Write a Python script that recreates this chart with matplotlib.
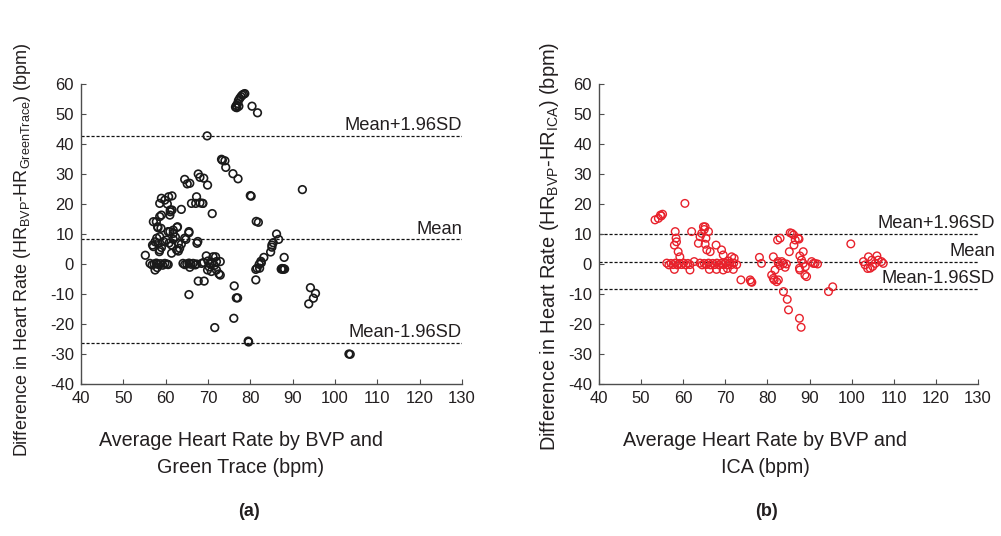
import matplotlib
matplotlib.use("Agg")
import matplotlib.pyplot as plt

plt.rcParams['font.family'] = ['Liberation Sans', 'DejaVu Sans']
plt.rcParams['mathtext.fontset'] = 'custom'
plt.rcParams['mathtext.rm'] = 'Liberation Sans'
plt.rcParams['mathtext.default'] = 'regular'
plt.rcParams['axes.unicode_minus'] = False

# --- data: Bland-Altman, BVP vs Green Trace (a) ---
x_a = [76.5, 76.7, 77.0, 77.2, 77.5, 77.8, 78.1, 78.4, 78.7, 76.8, 77.3,
       80.4, 81.7, 69.8,
       73.2, 74.0, 74.2, 75.9, 77.1, 73.4, 92.3, 80.0, 80.2, 81.4, 81.9, 71.0, 68.7,
       68.1, 69.0, 69.9, 64.5, 65.1, 65.7, 67.7,
       59.0, 59.8, 60.7, 61.5, 58.6, 60.4, 61.1, 63.7,
       66.1, 67.1, 68.1, 68.8, 67.3,
       57.1, 57.8, 58.6, 59.0, 61.0, 61.1, 61.5,
       58.2, 58.1, 58.9, 60.6, 61.8, 62.7, 62.8, 61.0, 61.8,
       65.5, 64.5, 67.4, 67.6, 64.8, 65.5, 63.7,
       58.2, 57.5, 57.1, 56.9, 57.9, 58.6, 58.5, 58.6, 61.4,
       63.0, 63.3, 61.4, 62.6, 63.0, 59.5, 60.2, 60.8, 59.0, 61.8, 62.3,
       55.2,
       56.3, 56.8, 57.3, 57.8, 58.3, 58.8, 59.3, 59.8, 60.3, 60.6,
       57.5, 58.0,
       64.1, 64.5, 65.0, 65.5, 66.0, 66.5, 67.0, 67.3,
       65.7, 65.5, 67.7, 69.1,
       68.5, 69.6, 71.2, 71.8, 72.9, 69.0, 70.0, 70.5, 71.0, 71.5, 72.0, 70.3,
       69.9, 72.0, 72.6, 72.9, 70.8,
       71.6, 76.2, 76.7, 77.0, 76.1, 79.5, 79.6,
       81.3, 81.3, 82.2, 82.6, 83.2, 82.5, 82.1, 81.6,
       84.8, 85.1, 85.4, 86.2, 86.7, 85.1,
       88.0, 87.3, 87.5, 87.7, 87.9, 88.1,
       94.2, 95.4, 94.9, 93.8, 103.3, 103.6]
y_a = [52.3, 52.8, 53.5, 54.5, 55.2, 55.8, 56.3, 56.6, 56.8, 52.1, 52.6,
       52.6, 50.4, 42.7,
       34.9, 34.4, 32.2, 30.1, 28.4, 34.6, 24.8, 22.8, 22.6, 14.2, 13.9, 16.8, 20.2,
       28.9, 28.6, 26.3, 28.2, 26.7, 26.9, 30.0,
       21.9, 21.3, 22.4, 22.7, 20.2, 20.0, 18.0, 18.2,
       20.2, 20.2, 20.4, 20.2, 22.4,
       14.1, 14.1, 15.8, 16.3, 16.3, 17.4, 18.0,
       12.1, 12.4, 11.9, 10.8, 11.3, 12.2, 12.4, 10.8, 10.2,
       10.8, 8.6, 6.9, 7.5, 8.2, 10.4, 6.6,
       6.9, 7.4, 5.8, 6.3, 8.6, 9.1, 4.1, 4.7, 3.6,
       6.9, 5.2, 6.3, 4.7, 4.3, 7.5, 8.0, 7.0, 5.5, 8.2, 9.0,
       2.9,
       0.2, -0.3, 0.0, 0.3, -0.2, 0.1, -0.4, 0.2, 0.0, -0.2,
       -2.0, -1.2,
       0.2, -0.2, 0.0, 0.3, -0.1, 0.2, -0.3, 0.0,
       -1.1, -10.2, -5.7, -5.7,
       0.2, 2.7, 2.4, 2.4, 0.8, 0.5, 1.0, 0.0, 0.5, -0.5, 0.8, -1.0,
       -2.0, -2.0, -3.3, -3.7, -2.5,
       -21.2, -7.3, -11.3, -11.3, -18.1, -25.7, -26.0,
       -5.3, -1.8, -1.4, 0.4, 2.2, 0.9, -0.1, -1.4,
       4.0, 6.3, 7.1, 10.0, 8.2, 5.6,
       2.2, -1.7, -1.5, -1.8, -1.6, -1.7,
       -7.9, -9.8, -11.4, -13.3, -30.0, -30.1]
mean_a, upper_a, lower_a = 8.2, 42.7, -26.3

# --- data: Bland-Altman, BVP vs ICA (b) ---
x_b = [60.4, 53.3, 54.1, 54.6, 55.1, 54.8,
       58.1, 58.3, 58.4, 57.9, 62.0, 58.8, 59.2, 57.9, 61.6,
       56.1, 56.6, 57.1, 57.6, 58.1, 58.6, 59.1, 59.6, 60.1, 60.6, 61.1, 61.6, 62.6,
       63.6, 64.0, 64.8, 65.2, 66.0, 64.4, 65.4, 65.0,
       65.2, 65.6, 66.4, 67.8, 69.1, 69.5,
       64.0, 64.5, 65.0, 65.5, 66.0, 66.5, 67.0, 67.5, 68.0, 68.5, 69.0, 69.5,
       70.0, 70.5, 71.0, 71.5, 72.0, 72.7,
       66.2, 67.9, 69.5, 71.9, 70.5, 71.5, 72.1, 70.8,
       73.7, 76.1, 76.3, 75.9, 78.1, 78.6,
       81.4, 82.4, 83.0,
       81.0, 81.6, 82.2, 82.6, 81.4,
       81.8, 82.6, 83.4, 84.2, 82.5, 83.0, 83.8, 84.5,
       83.8, 84.7, 85.0, 87.6, 88.0,
       85.2, 86.3, 86.6, 85.4, 85.8, 86.2, 87.3, 87.5,
       88.5, 87.7, 88.1, 88.5, 87.6, 87.7, 88.9, 89.3, 89.0,
       90.5, 91.3, 91.9, 90.9, 94.5, 95.5, 99.8,
       102.8, 103.2, 104.0, 104.4, 104.8, 105.6, 106.0, 106.3, 107.1, 107.5, 103.8, 105.0]
y_b = [20.2, 14.7, 15.2, 16.3, 16.6, 16.0,
       10.8, 8.6, 7.4, 6.3, 10.8, 4.1, 2.4, -1.8, -2.0,
       0.3, -0.3, 0.2, -0.2, 0.3, -0.3, 0.2, -0.2, 0.3, -0.3, 0.2, -0.2, 0.8,
       6.9, 9.1, 12.4, 12.4, 10.8, 10.2, 8.6, 11.5,
       6.6, 4.7, 4.1, 6.3, 4.7, 3.0,
       0.3, -0.3, 0.2, -0.2, 0.3, -0.3, 0.2, -0.2, 0.3, -0.3, 0.2, -0.2,
       0.3, -0.3, 0.2, -0.2, 0.3, -0.2,
       -1.8, -1.8, -2.0, -1.8, -1.5, 2.4, 1.9, 1.0,
       -5.3, -5.9, -6.1, -5.3, 2.2, 0.2,
       2.4, 8.0, 8.6,
       -3.7, -5.3, -5.9, -5.3, -4.8,
       -2.0, 0.2, 0.8, -1.1, 0.8, -0.5, 0.2, 0.0,
       -9.2, -11.8, -15.3, -18.1, -21.1,
       4.1, 6.3, 8.0, 10.4, 10.2, 9.7, 8.6, 8.3,
       4.1, 2.7, 1.3, 0.2, -1.4, -2.0, -3.7, -4.2, -0.9,
       0.8, 0.2, 0.0, 0.2, -9.2, -7.6, 6.7,
       0.8, -0.3, 2.4, -1.4, 1.3, 0.2, 2.7, 1.3, 0.8, 0.2, -1.5, -0.8]
mean_b, upper_b, lower_b = 0.7, 9.9, -8.3

x_ticks = [40, 50, 60, 70, 80, 90, 100, 110, 120, 130]
y_ticks = [-40, -30, -20, -10, 0, 10, 20, 30, 40, 50, 60]
line_labels = ["Mean+1.96SD", "Mean", "Mean-1.96SD"]

text_col = '#231F20'

fig = plt.figure(figsize=(10.01, 5.36), dpi=100, facecolor='white')


def setup_axes(ax):
    ax.set_xlim(40, 130)
    ax.set_ylim(-40, 60)
    ax.set_xticks(x_ticks)
    ax.set_yticks(y_ticks)
    ax.spines['top'].set_visible(False)
    ax.spines['right'].set_visible(False)
    for s in ['left', 'bottom']:
        ax.spines[s].set_color('#4D4D4D')
        ax.spines[s].set_linewidth(1.0)
    ax.tick_params(direction='in', length=3.5, width=0.8, color='#4D4D4D',
                   labelsize=12, labelcolor=text_col, pad=5)


def draw_limits(ax, vals, text_x):
    for v, lab in zip(vals, line_labels):
        ax.axhline(v, color='#111111', lw=0.9, ls=(0, (2.5, 1.5)), zorder=1)
        ax.text(text_x, v + 0.6, lab, transform=ax.get_yaxis_transform(),
                ha='right', va='bottom', fontsize=13.2, color=text_col)


# --- PANEL (a) ---
ax1 = fig.add_axes([0.0809, 0.2836, 0.3806, 0.5597])
setup_axes(ax1)
ax1.scatter(x_a, y_a, s=30, facecolors='none', edgecolors='#1A1A1A', linewidths=1.2, zorder=3)
draw_limits(ax1, [upper_a, mean_a, lower_a], 1.0)
ax1.set_xlabel("Average Heart Rate by BVP and\nGreen Trace (bpm)", fontsize=14.2,
               color=text_col, linespacing=1.5)
ax1.xaxis.set_label_coords(0.42, -0.158)
ax1.set_ylabel("Difference in Heart Rate (HR$_{BVP}$-HR$_{GreenTrace}$) (bpm)",
               fontsize=13.0, color=text_col)
ax1.yaxis.set_label_coords(-0.125, 0.447)
fig.text(249 / 1001, 1 - 512 / 536, "(a)", ha='center', va='center',
         fontsize=13, fontweight='bold', color=text_col)

# --- PANEL (b) ---
ax2 = fig.add_axes([0.5984, 0.2836, 0.3786, 0.5597])
setup_axes(ax2)
ax2.scatter(x_b, y_b, s=30, facecolors='none', edgecolors='#E8212B', linewidths=1.0, zorder=3)
draw_limits(ax2, [upper_b, mean_b, lower_b], 1.045)
ax2.set_xlabel("Average Heart Rate by BVP and\nICA (bpm)", fontsize=14.2,
               color=text_col, linespacing=1.5)
ax2.xaxis.set_label_coords(0.438, -0.158)
ax2.set_ylabel("Difference in Heart Rate (HR$_{BVP}$-HR$_{ICA}$) (bpm)",
               fontsize=14.4, color=text_col)
ax2.yaxis.set_label_coords(-0.1, 0.46)
fig.text(766 / 1001, 1 - 512 / 536, "(b)", ha='center', va='center',
         fontsize=13, fontweight='bold', color=text_col)

plt.savefig("out.png", dpi=100, facecolor='white')
plt.close()
